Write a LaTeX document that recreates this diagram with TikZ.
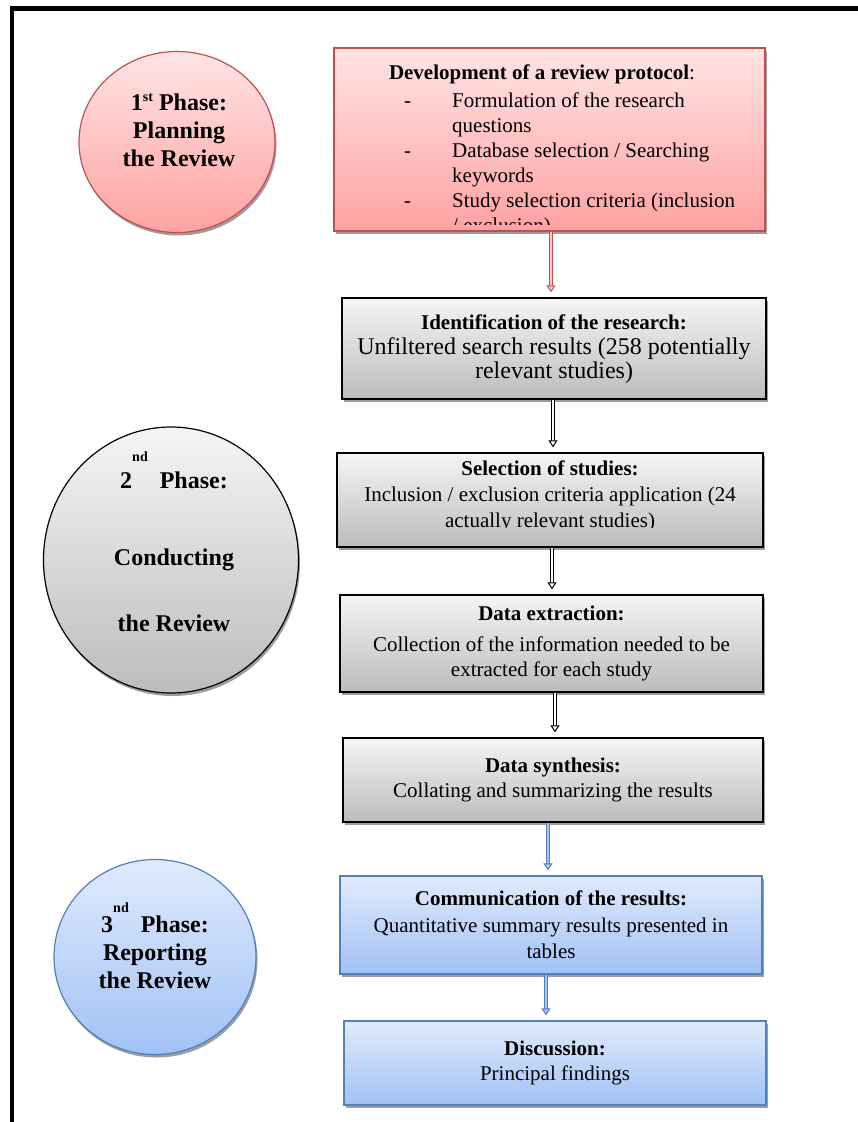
\documentclass[tikz,border=0pt]{standalone}
\usepackage{fontspec}
\setmainfont{Liberation Serif}
\usetikzlibrary{positioning,arrows.meta,shapes.geometric,shadows}
\definecolor{slrred}{HTML}{C0504D}
\definecolor{slrredtop}{HTML}{FFE4E4}
\definecolor{slrredbot}{HTML}{FFA2A2}
\definecolor{slrgreytop}{HTML}{F5F5F5}
\definecolor{slrgreybot}{HTML}{BCBCBC}
\definecolor{slrblue}{HTML}{4F81BD}
\definecolor{slrbluetop}{HTML}{E0EBFD}
\definecolor{slrbluebot}{HTML}{A2C1F5}
\tikzset{
  slr shadow/.style={drop shadow={shadow xshift=1.5pt,shadow yshift=-3pt,
    fill=black!55,opacity=0.7}},
  slr box/.style={rectangle,line width=1.3pt,inner sep=0pt,slr shadow,
    font=\fontsize{21}{25}\selectfont,align=center},
  slr red box/.style={slr box,draw=slrred,top color=slrredtop,bottom color=slrredbot},
  slr grey box/.style={slr box,draw=black,top color=slrgreytop,bottom color=slrgreybot},
  slr blue box/.style={slr box,draw=slrblue,top color=slrbluetop,bottom color=slrbluebot},
  slr text/.style={inner sep=0pt,font=\fontsize{21}{25}\selectfont},
  slr phase/.style={ellipse,line width=1.2pt,inner sep=0pt,slr shadow},
  slr phase text/.style={inner sep=0pt,align=center,
    font=\fontsize{24}{28}\selectfont\bfseries},
  slr arrow/.style 2 args={draw=#1,double=#2,double distance=2.2pt,line width=1pt,
    shorten >=5pt,-{Triangle[length=7pt,width=9pt,fill=#2]}}
}
\newcommand{\slrsup}[2]{\raisebox{#1}{\fontsize{14}{14}\selectfont #2}}

\begin{document}
\begin{tikzpicture}[x=1pt,y=1pt]
  \useasboundingbox (0,0) rectangle (857,-1122);
  % outer frame (left and top only)
  \coordinate (frame bl) at (12,-1126);
  \coordinate (frame tl) at (12,-8.5);
  \coordinate (frame tr) at (861,-8.5);
  \draw[line width=4.5pt] (frame bl) -- (frame tl) -- (frame tr);

  % phases
  \node[slr phase,draw=slrred,top color=slrredtop,bottom color=slrredbot,
    minimum width=196pt,minimum height=181pt] (plan) at (177,-142) {};
  \node[slr phase text] (plan label) at (179,-130)
    {1\slrsup{9pt}{st} Phase:\\Planning\\the Review};
  \node[slr phase,draw=black,top color=slrgreytop,bottom color=slrgreybot,
    minimum width=255pt,minimum height=266pt] (conduct) at (171,-560) {};
  \node[slr phase text] (conduct label) at (174,-542)
    {2\slrsup{27pt}{nd}\ \ Phase:\\[49pt]Conducting\\[38pt]the Review};
  \node[slr phase,draw=slrblue,top color=slrbluetop,bottom color=slrbluebot,
    minimum width=202pt,minimum height=195pt] (report) at (155,-957) {};
  \node[slr phase text] (report label) at (155,-946)
    {3\slrsup{20pt}{nd}\ \ Phase:\\Reporting\\the Review};

  % steps
  \node[slr red box,minimum width=431pt,minimum height=183pt] (protocol) at (549.5,-139.5) {};
  \begin{scope}
    \clip ([yshift=7pt]protocol.south west) rectangle (protocol.north east);
    \node[slr text,anchor=base] (protocol title) at (542,-79)
      {\textbf{Development of a review protocol}:};
    \node[slr text,anchor=base west] (protocol items) at (404,-107)
      {\begin{tabular}[t]{@{}p{48pt}@{}l@{}}
        - & Formulation of the research\\
          & questions\\
        - & Database selection / Searching\\
          & keywords\\
        - & Study selection criteria (inclusion\\
          & / exclusion)
      \end{tabular}};
  \end{scope}

  \node[slr grey box,minimum width=424pt,minimum height=101pt] (identify) at (554,-348.5)
    {\begin{tabular}{@{}c@{}}
      \textbf{Identification of the research:}\\
      \fontsize{24}{24}\selectfont Unfiltered search results (258 potentially\\[-1pt]
      \fontsize{24}{24}\selectfont relevant studies)
    \end{tabular}};

  \node[slr grey box,minimum width=426pt,minimum height=94pt] (select) at (550,-500) {};
  \begin{scope}
    \clip ([yshift=20.5pt]select.south west) rectangle (select.north east);
    \node[slr text,anchor=base,font=\fontsize{21}{26}\selectfont] (select text) at (550,-475)
      {\begin{tabular}[t]{@{}c@{}}
        \textbf{Selection of studies:}\\
        Inclusion / exclusion criteria application (24\\
        actually relevant studies)
      \end{tabular}};
  \end{scope}

  \node[slr grey box,minimum width=423pt,minimum height=97pt] (extract) at (551.5,-643.5)
    {\textbf{Data extraction:}\\[6pt]Collection of the information needed to be\\extracted for each study};
  \node[slr grey box,minimum width=420pt,minimum height=84pt] (synth) at (553,-780)
    {\textbf{Data synthesis:}\\Collating and summarizing the results};
  \node[slr blue box,minimum width=422pt,minimum height=98pt] (comm) at (551,-925)
    {\textbf{Communication of the results:}\\[1.5pt]Quantitative summary results presented in\\[1.5pt]tables};
  \node[slr blue box,minimum width=422pt,minimum height=84pt] (disc) at (555,-1063)
    {\textbf{Discussion:}\\Principal findings};

  % connectors
  \draw[slr arrow={slrred}{slrredtop!60!slrredbot}] ([xshift=1.5pt]protocol.south) -- ([xshift=1.5pt]protocol.south |- identify.north);
  \draw[slr arrow={black}{white}] ([xshift=-1pt]identify.south) -- ([xshift=-1pt]identify.south |- select.north);
  \draw[slr arrow={black}{white}] ([xshift=2pt]select.south) -- ([xshift=2pt]select.south |- extract.north);
  \draw[slr arrow={black}{white}] ([xshift=3.5pt]extract.south) -- ([xshift=3.5pt]extract.south |- synth.north);
  \draw[slr arrow={slrblue}{slrbluebot}] ([xshift=-5pt]synth.south) -- ([xshift=-5pt]synth.south |- comm.north);
  \draw[slr arrow={slrblue}{slrbluebot}] ([xshift=-5pt]comm.south) -- ([xshift=-5pt]comm.south |- disc.north);
\end{tikzpicture}
\end{document}
